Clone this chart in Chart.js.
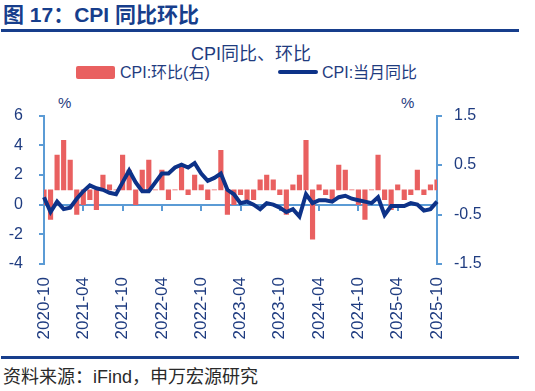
<!DOCTYPE html>
<html>
<head>
<meta charset="utf-8">
<script src="https://cdn.jsdelivr.net/npm/chart.js@4/dist/chart.umd.min.js"></script>
<style>
  body { margin: 0; width: 535px; height: 391px; background: #fff; position: relative; overflow: hidden;
         font-family: "Liberation Sans", "Noto Sans CJK SC", sans-serif; }
  .abs { position: absolute; white-space: nowrap; }
  #head { left: 3px; top: 2px; font-size: 21px; line-height: 25px; font-weight: bold; color: #173e8c; }
  .rule { left: 1px; width: 518px; height: 3px; background: #173e8c; }
  #ctitle { left: 0; width: 502px; text-align: center; top: 43px; font-size: 18px; line-height: 22px; color: #1f3c80; }
  .leg { font-size: 16px; line-height: 18px; color: #1f3c80; top: 64px; }
  .pct { top: 94px; font-size: 15px; color: #1f3c80; }
  #src { left: 3px; top: 366px; font-size: 18px; line-height: 22px; color: #2a2a2a; }
  #wrap { left: 0; top: 90px; width: 535px; height: 260px; }
</style>
</head>
<body>
<div class="abs" id="head">图 17：CPI 同比环比</div>
<div class="abs rule" style="top:29px"></div>
<div class="abs" id="ctitle">CPI同比、环比</div>
<div class="abs" style="left:76px;top:66px;width:39px;height:13px;background:#e96060;border-radius:2px"></div>
<div class="abs leg" style="left:120px">CPI:环比(右)</div>
<div class="abs" style="left:278px;top:70px;width:40px;height:4px;background:#0d3288;border-radius:2px"></div>
<div class="abs leg" style="left:322px">CPI:当月同比</div>
<div class="abs pct" style="left:58px">%</div>
<div class="abs pct" style="left:401px">%</div>
<div class="abs" id="wrap"><canvas id="chart"></canvas></div>
<div class="abs rule" style="top:356px"></div>
<div class="abs" id="src">资料来源：iFind，申万宏源研究</div>

<script>
// months 2020-10 .. 2025-10
const months = [];
for (let y = 2020, m = 10; y < 2025 || (y === 2025 && m <= 10); m++) {
  if (m > 12) { m = 1; y++; }
  months.push(y + "-" + String(m).padStart(2, "0"));
}

// CPI 当月同比 (%)
const cpiYoY = [0.5, -0.5, 0.2,
  -0.3, -0.2, 0.4, 0.9, 1.3, 1.1, 1.0, 0.8, 0.7, 1.5, 2.3, 1.5,
  0.9, 0.9, 1.5, 2.1, 2.1, 2.5, 2.7, 2.5, 2.8, 2.1, 1.6, 1.8,
  2.1, 1.0, 0.7, 0.1, 0.2, 0.0, -0.3, 0.1, 0.0, -0.2, -0.5, -0.3,
  -0.8, 0.7, 0.1, 0.3, 0.3, 0.2, 0.5, 0.6, 0.4, 0.3, 0.2, 0.1,
  0.5, -0.7, -0.1, -0.1, -0.1, 0.1, 0.0, -0.4, -0.3, 0.2];

// CPI 环比 (%, right axis)
const cpiMoM = [-0.3, -0.6, 0.7,
  1.0, 0.6, -0.5, -0.3, -0.2, -0.4, 0.3, 0.1, 0.0, 0.7, 0.4, -0.3,
  0.4, 0.6, 0.0, 0.4, -0.2, 0.0, 0.5, -0.1, 0.3, 0.1, -0.2, 0.0,
  0.8, -0.5, -0.3, -0.1, -0.2, -0.2, 0.2, 0.3, 0.2, -0.1, -0.5, 0.1,
  0.3, 1.0, -1.0, 0.1, -0.1, -0.2, 0.5, 0.4, 0.0, -0.3, -0.6, 0.0,
  0.7, -0.2, -0.4, 0.1, -0.2, -0.1, 0.4, -0.1, 0.1, 0.2];

const leftTicks = [-4, -2, 0, 2, 4, 6];
const rightTicks = [-1.5, -0.5, 0.5, 1.5];

const navy = "#1f3c80";
const axisBlue = "#5b9bd5";
const tickFont = { family: "Liberation Sans", size: 16 };

var ctx = document.getElementById("chart").getContext("2d");
var chart = new Chart(ctx, {
  type: "line",
  data: {
    labels: months,
    datasets: [
      {
        label: "CPI:当月同比",
        data: cpiYoY,
        borderColor: "#0d3288",
        borderWidth: 4,
        pointRadius: 0,
        tension: 0,
        xAxisID: "x",
        yAxisID: "y",
        order: 0,
      },
      {
        type: "bar",
        label: "CPI:环比(右)",
        data: cpiMoM,
        backgroundColor: "#e96060",
        barThickness: 4.5,
        xAxisID: "x",
        yAxisID: "y1",
        order: 1,
      },
    ],
  },
  options: {
    responsive: true,
    maintainAspectRatio: false,
    animation: false,
    layout: { padding: { left: 8, right: 54, top: 24.5, bottom: 0 } },
    plugins: { legend: { display: false }, tooltip: { enabled: false } },
    scales: {
      x: {
        type: "category",
        position: "bottom",
        offset: false,
        grid: { display: false, drawTicks: false, offset: false },
        border: { display: false },
        ticks: {
          autoSkip: false,
          maxRotation: 90,
          minRotation: 90,
          padding: 13,
          color: navy,
          font: { family: "Liberation Sans", size: 17 },
          callback: function (v, i) { return i % 6 === 0 ? months[i] : ""; },
        },
        afterFit: function (s) { s.height = 86; },
      },
      x2: {
        type: "category",
        position: { y: 0 },
        offset: false,
        grid: {
          drawOnChartArea: false,
          drawTicks: true,
          tickLength: 5,
          lineWidth: 2,
          offset: false,
          tickColor: function (c) { return c.index % 6 === 0 ? axisBlue : "rgba(0,0,0,0)"; },
        },
        border: { color: axisBlue, width: 2 },
        ticks: { display: false, autoSkip: false },
      },
      y: {
        position: "left",
        min: leftTicks[0],
        max: leftTicks[leftTicks.length - 1],
        afterBuildTicks: function (s) { s.ticks = leftTicks.map(v => ({ value: v })); },
        grid: { drawOnChartArea: false, tickLength: 5, tickColor: axisBlue, lineWidth: 2 },
        border: { color: axisBlue, width: 2 },
        ticks: { padding: 16, color: navy, font: tickFont },
        afterFit: function (s) { s.width = 36; },
      },
      y1: {
        position: "right",
        min: rightTicks[0],
        max: rightTicks[rightTicks.length - 1],
        afterBuildTicks: function (s) { s.ticks = rightTicks.map(v => ({ value: v })); },
        grid: { drawOnChartArea: false, tickLength: 5, tickColor: axisBlue, lineWidth: 2 },
        border: { color: axisBlue, width: 2 },
        ticks: { padding: 12, color: navy, font: tickFont, callback: v => v.toFixed(1) },
        afterFit: function (s) { s.width = 44; },
      },
    },
  },
});
</script>
</body>
</html>
